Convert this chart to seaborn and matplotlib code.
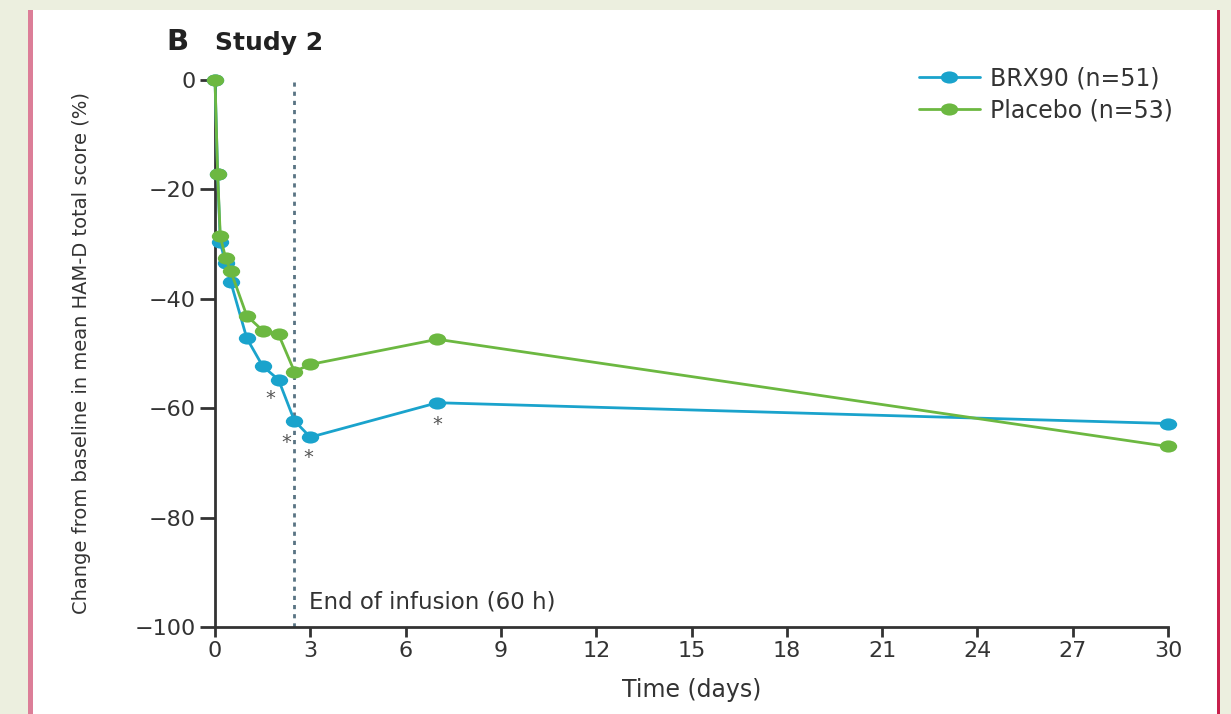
import matplotlib
matplotlib.use("Agg")
import matplotlib.pyplot as plt
import seaborn as sns
import pandas as pd
import numpy as np
from matplotlib.patches import Rectangle
from matplotlib.lines import Line2D
from matplotlib.path import Path

# ---- data ----
days = [0, 0.083, 0.167, 0.333, 0.5, 1, 1.5, 2, 2.5, 3, 7, 30]
brx90 = [0, -17.2, -29.7, -33.5, -37.0, -47.2, -52.3, -54.8, -62.3, -65.3, -59.0, -62.8]
placebo = [0, -17.2, -28.6, -32.5, -35.0, -43.1, -45.8, -46.5, -53.3, -52.0, -47.4, -67.0]
series_names = ["BRX90 (n=51)", "Placebo (n=53)"]
star_x = [1.75, 2.25, 2.95, 7.0]
star_y = [-58.3, -66.3, -69.0, -63.0]
xticks = [0, 3, 6, 9, 12, 15, 18, 21, 24, 27, 30]
yticks = [0, -20, -40, -60, -80, -100]

blue = "#1AA3CC"
green = "#6CB841"
text_col = "#333333"

df = pd.DataFrame({
    "day": days * 2,
    "value": brx90 + placebo,
    "group": [series_names[0]] * len(days) + [series_names[1]] * len(days),
})

# slightly wide elliptical marker (the reference is horizontally stretched)
uc = Path.unit_circle()
ell = Path(uc.vertices * np.array([1.0, 0.7]), uc.codes)

sns.set_style("white")
plt.rcParams["font.family"] = ["DejaVu Sans"]

fig = plt.figure(figsize=(12.31, 7.14), dpi=100)
fig.patch.set_facecolor("#ECEFDF")
fig.patches.append(Rectangle((33 / 1231, 0), (1217 - 33) / 1231, 1 - 10 / 714,
                             transform=fig.transFigure, facecolor="white", edgecolor="none", zorder=-10))
fig.patches.append(Rectangle((28 / 1231, 0), 5 / 1231, 1 - 10 / 714,
                             transform=fig.transFigure, facecolor="#DC7E98", edgecolor="none", zorder=-9))
fig.patches.append(Rectangle((1217 / 1231, 0), 3 / 1231, 1 - 10 / 714,
                             transform=fig.transFigure, facecolor="#C8204C", edgecolor="none", zorder=-9))

ax = fig.add_axes([215 / 1231, 1 - 627 / 714, (1168 - 215) / 1231, (627 - 80) / 714])
ax.set_facecolor("none")

sns.lineplot(data=df, x="day", y="value", hue="group", palette=[blue, green],
             marker=ell, markersize=12.5, markeredgewidth=0, linewidth=2.0,
             ax=ax, legend=False, zorder=3)
for ln in ax.lines:
    ln.set_clip_on(False)

ax.set_xlim(0, 30)
ax.set_ylim(-100, 0)
ax.set_xticks(xticks)
ax.set_yticks(yticks)
ax.set_xticklabels([str(t) for t in xticks])
ax.set_yticklabels([str(t).replace("-", "\u2212") for t in yticks])
ax.tick_params(axis="both", direction="out", width=2, color="#333333",
               labelsize=16, labelcolor=text_col, left=True, bottom=True)
ax.tick_params(axis="y", length=11, pad=3)
ax.tick_params(axis="x", length=7, pad=3)
for s in ["top", "right"]:
    ax.spines[s].set_visible(False)
for s in ["left", "bottom"]:
    ax.spines[s].set_color("#333333")
    ax.spines[s].set_linewidth(2)

ax.axvline(2.5, color="#587383", linestyle=(0, (1.5, 1.8)), linewidth=2.0, zorder=2)
ax.text(2.95, -95.5, "End of infusion (60 h)", fontsize=16.5, color=text_col, ha="left", va="center")

for sx, sy in zip(star_x, star_y):
    ax.text(sx, sy, "*", fontsize=14, color="#555555", ha="center", va="center")

ax.set_xlabel("Time (days)", fontsize=17, color=text_col, va="center")
ax.xaxis.set_label_coords(0.5, (627 - 690) / 547)
ax.set_ylabel("Change from baseline in mean HAM-D total score (%)", fontsize=14,
              color=text_col, va="center")
ax.yaxis.set_label_coords((82 - 215) / 953, 0.5)

handles = [Line2D([], [], color=blue, marker=ell, markersize=12.5, markeredgewidth=0, linewidth=2.0),
           Line2D([], [], color=green, marker=ell, markersize=12.5, markeredgewidth=0, linewidth=2.0)]
leg = ax.legend(handles, series_names, loc="upper right", bbox_to_anchor=(1.022, 1.055),
                frameon=False, fontsize=17, handlelength=2.6, labelspacing=0.35,
                handletextpad=0.4, labelcolor=text_col, borderaxespad=0.3)

fig.text(166 / 1231, 1 - 42 / 714, "B", fontsize=21, fontweight="bold", color="#222222", va="center")
fig.text(215 / 1231, 1 - 43 / 714, "Study 2", fontsize=18, fontweight="bold", color="#222222", va="center")

fig.savefig("out.png", dpi=100)
